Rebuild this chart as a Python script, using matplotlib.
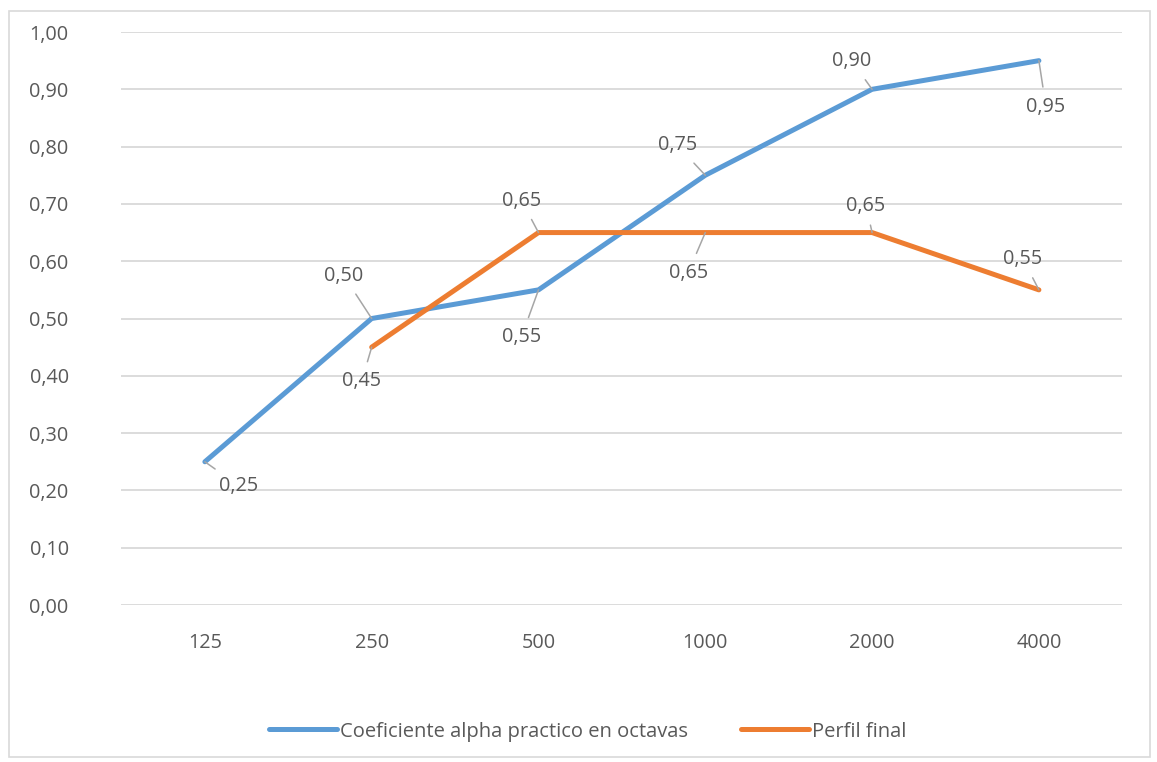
import matplotlib.pyplot as plt
from matplotlib.patches import Rectangle

plt.rcParams['font.family'] = ['Open Sans', 'DejaVu Sans']

# datos
bandas = ['125', '250', '500', '1000', '2000', '4000']
alpha_practico = [0.25, 0.50, 0.55, 0.75, 0.90, 0.95]
perfil_final = [None, 0.45, 0.65, 0.65, 0.65, 0.55]
etiquetas_y = ['0,00', '0,10', '0,20', '0,30', '0,40', '0,50', '0,60', '0,70', '0,80', '0,90', '1,00']

# desplazamiento de las etiquetas de datos (pixeles)
off_alpha = [(34, -24), (-28, 43), (-17, -47), (-28, 30), (-20, 28), (7, -46)]
off_perfil = [None, (-10, -34), (-17, 32), (-17, -40), (-6, 27), (-16, 31)]

azul = '#5B9BD5'
naranja = '#ED7D31'
gris = '#595959'
fs = 14.3

fig = plt.figure(figsize=(11.57, 7.62), dpi=100)
ax = fig.add_axes([0.105, 0.206, 0.865, 0.752])

x = list(range(len(bandas)))
ax.plot(x, alpha_practico, color=azul, lw=3.6, solid_capstyle='round',
        label='Coeficiente alpha practico en octavas', zorder=3)
xp = [i for i, v in zip(x, perfil_final) if v is not None]
yp = [v for v in perfil_final if v is not None]
ax.plot(xp, yp, color=naranja, lw=3.6, solid_capstyle='round', label='Perfil final', zorder=3)

def etiqueta(xi, yi, off):
    ax.annotate(f'{yi:.2f}'.replace('.', ','), (xi, yi), xytext=off,
                textcoords='offset pixels', ha='center', va='center',
                fontsize=fs, color=gris, zorder=4,
                arrowprops=dict(arrowstyle='-', color='#a6a6a6', lw=1.1,
                                shrinkA=5, shrinkB=0))

for xi, yi, off in zip(x, alpha_practico, off_alpha):
    etiqueta(xi, yi, off)
for xi, yi, off in zip(x, perfil_final, off_perfil):
    if yi is not None:
        etiqueta(xi, yi, off)

ax.set_xlim(-0.5, len(bandas) - 0.5)
ax.set_ylim(0, 1.0)
ax.set_yticks([i / 10 for i in range(11)])
ax.set_yticklabels(etiquetas_y)
ax.set_xticks(x)
ax.set_xticklabels(bandas)
ax.tick_params(length=0, labelsize=fs, labelcolor=gris)
ax.tick_params(axis='x', pad=20)
ax.tick_params(axis='y', pad=38)
ax.grid(axis='y', color='#d9d9d9', lw=1.3)
ax.set_axisbelow(True)
for s in ax.spines.values():
    s.set_visible(False)

leg = fig.legend(loc='center', bbox_to_anchor=(0.508, 0.04), ncol=2, frameon=False,
                 fontsize=14.5, handlelength=3.4, handletextpad=0.15, columnspacing=2.6)
for t in leg.get_texts():
    t.set_color(gris)

fig.patches.append(Rectangle((0.008, 0.006), 0.986, 0.98, transform=fig.transFigure,
                             fill=False, edgecolor='#d9d9d9', lw=1.2))

fig.savefig('out.png', dpi=100)
